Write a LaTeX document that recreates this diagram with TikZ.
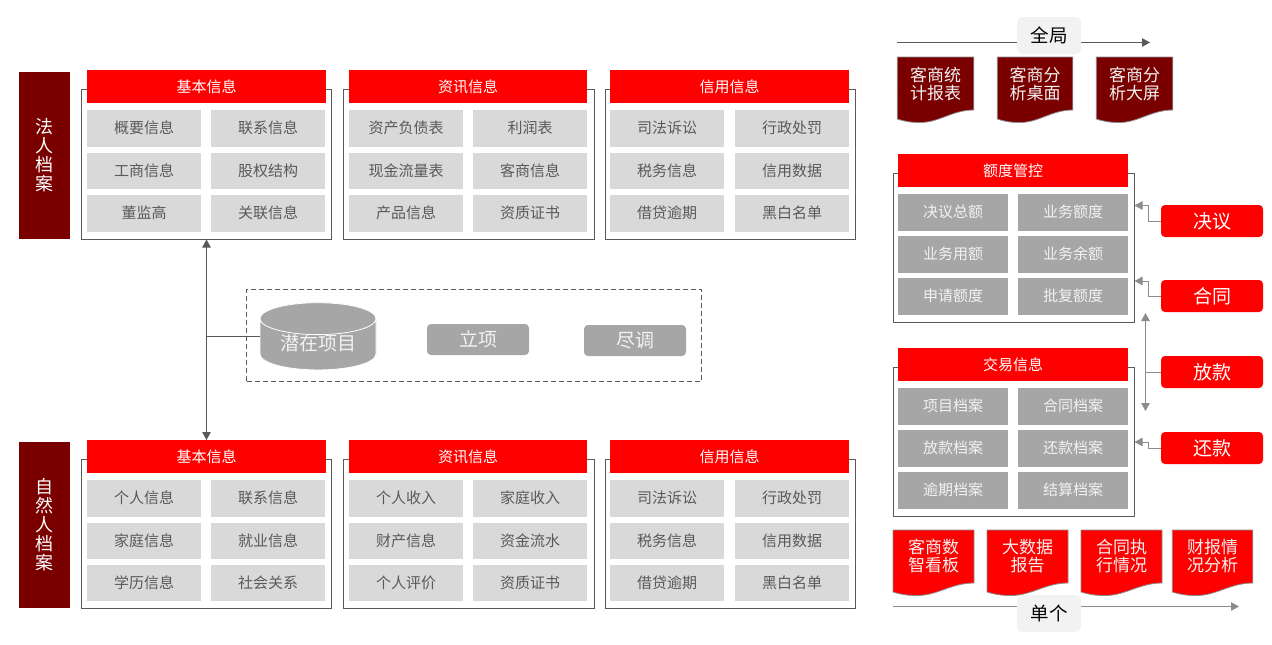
\documentclass[tikz,border=0pt]{standalone}
\usepackage{fontspec}
\setmainfont{Noto Sans CJK SC}
\usetikzlibrary{positioning}
\usetikzlibrary{shapes.geometric}
\usetikzlibrary{arrows.meta}
\definecolor{darkred}{HTML}{7A0000}
\definecolor{lightcell}{HTML}{D9D9D9}
\definecolor{midcell}{HTML}{A6A6A6}
\definecolor{linegrey}{HTML}{595959}
\definecolor{softgrey}{HTML}{8C8C8C}
\definecolor{tagfill}{HTML}{F2F2F2}
\begin{document}
\begin{tikzpicture}[x=1pt,y=-1pt,
  every node/.style={inner sep=0pt,outer sep=0pt},
  tip/.style={-{Triangle[length=8pt,width=8.5pt]}},
  bothtips/.style={{Triangle[length=8pt,width=8.5pt]}-{Triangle[length=8pt,width=8.5pt]}},
  framebox/.style={draw=linegrey,line width=.9pt,fill=white,anchor=north west,minimum width=250pt,minimum height=150pt},
  rightframe/.style={framebox,minimum width=241pt,minimum height=149pt},
  sidebox/.style={fill=darkred,text=white,anchor=north west,minimum width=51pt,minimum height=167pt,align=center,font=\fontsize{18}{19}\selectfont},
  titlebox/.style={fill=red,text=white,anchor=north west,minimum width=239pt,minimum height=33pt,text height=13.2pt,text depth=1.8pt,font=\fontsize{15}{18}\selectfont},
  righttitle/.style={titlebox,minimum width=230pt},
  cellbox/.style={fill=lightcell,text=linegrey,minimum width=114pt,minimum height=36.5pt,text height=13.2pt,text depth=1.8pt,font=\fontsize{15}{18}\selectfont},
  midbox/.style={cellbox,fill=midcell,text=tagfill,minimum width=110pt},
  stepbox/.style={fill=midcell,text=tagfill,rounded corners=4pt,minimum width=102pt,minimum height=31pt,text height=16.7pt,text depth=2.3pt,font=\fontsize{19}{22}\selectfont},
  redbtn/.style={fill=red,text=white,rounded corners=4pt,minimum width=102pt,minimum height=32pt,text height=16.7pt,text depth=2.3pt,font=\fontsize{19}{22}\selectfont},
  tagbox/.style={fill=tagfill,text=black,rounded corners=5pt,minimum width=64pt,minimum height=37pt,text height=16.3pt,text depth=2.2pt,font=\fontsize{18.5}{22}\selectfont},
  doctext/.style={text=tagfill,align=center,font=\fontsize{17}{18.5}\selectfont},
  docpaper/.pic={\path[pic actions,draw=softgrey,line width=.8pt] (0,0) -- (#1,0) -- (#1,53) .. controls (0.72*#1,53) and (0.55*#1,65.5) .. (0.3*#1,65.5) .. controls (0.18*#1,65.5) and (0.1*#1,64.5) .. (0,62) -- cycle;}]

\useasboundingbox (0,0) rectangle (1272,645);

\node[sidebox] (legal) at (19,72) {法\\人\\档\\案};
\node[sidebox,minimum height=166pt] (person) at (19,442) {自\\然\\人\\档\\案};

\node[framebox] (frameA) at (81.5,89.5) {};
\node[framebox,minimum width=251pt] (frameB) at (343.5,89.5) {};
\node[framebox] (frameC) at (605.5,89.5) {};

\node[titlebox] (titleA) at (87,70) {基本信息};
\node[cellbox, below right=7pt and 0pt of titleA.south west] (cellA1) {概要信息};
\node[cellbox, right=10pt of cellA1] (cellA2) {联系信息};
\node[cellbox, below=6pt of cellA1] (cellA3) {工商信息};
\node[cellbox, below=6pt of cellA2] (cellA4) {股权结构};
\node[cellbox, below=6pt of cellA3] (cellA5) {董监高};
\node[cellbox, below=6pt of cellA4] (cellA6) {关联信息};

\node[titlebox,minimum width=238pt] (titleB) at (349,70) {资讯信息};
\node[cellbox, below right=7pt and 0pt of titleB.south west] (cellB1) {资产负债表};
\node[cellbox, right=10pt of cellB1] (cellB2) {利润表};
\node[cellbox, below=6pt of cellB1] (cellB3) {现金流量表};
\node[cellbox, below=6pt of cellB2] (cellB4) {客商信息};
\node[cellbox, below=6pt of cellB3] (cellB5) {产品信息};
\node[cellbox, below=6pt of cellB4] (cellB6) {资质证书};

\node[titlebox] (titleC) at (610,70) {信用信息};
\node[cellbox, below right=7pt and 0pt of titleC.south west] (cellC1) {司法诉讼};
\node[cellbox, right=11pt of cellC1] (cellC2) {行政处罚};
\node[cellbox, below=6pt of cellC1] (cellC3) {税务信息};
\node[cellbox, below=6pt of cellC2] (cellC4) {信用数据};
\node[cellbox, below=6pt of cellC3] (cellC5) {借贷逾期};
\node[cellbox, below=6pt of cellC4] (cellC6) {黑白名单};

\node[framebox,minimum height=149pt] (frameD) at (81.5,459.5) {};
\node[framebox,minimum width=251pt,minimum height=149pt] (frameE) at (343.5,459.5) {};
\node[framebox,minimum height=149pt] (frameF) at (605.5,459.5) {};

\node[titlebox] (titleD) at (87,440) {基本信息};
\node[cellbox, below right=7pt and 0pt of titleD.south west] (cellD1) {个人信息};
\node[cellbox, right=10pt of cellD1] (cellD2) {联系信息};
\node[cellbox, below=6pt of cellD1] (cellD3) {家庭信息};
\node[cellbox, below=6pt of cellD2] (cellD4) {就业信息};
\node[cellbox, below=5.5pt of cellD3] (cellD5) {学历信息};
\node[cellbox, below=5.5pt of cellD4] (cellD6) {社会关系};

\node[titlebox,minimum width=238pt] (titleE) at (349,440) {资讯信息};
\node[cellbox, below right=7pt and 0pt of titleE.south west] (cellE1) {个人收入};
\node[cellbox, right=10pt of cellE1] (cellE2) {家庭收入};
\node[cellbox, below=6pt of cellE1] (cellE3) {财产信息};
\node[cellbox, below=6pt of cellE2] (cellE4) {资金流水};
\node[cellbox, below=5.5pt of cellE3] (cellE5) {个人评价};
\node[cellbox, below=5.5pt of cellE4] (cellE6) {资质证书};

\node[titlebox] (titleF) at (610,440) {信用信息};
\node[cellbox, below right=7pt and 0pt of titleF.south west] (cellF1) {司法诉讼};
\node[cellbox, right=11pt of cellF1] (cellF2) {行政处罚};
\node[cellbox, below=6pt of cellF1] (cellF3) {税务信息};
\node[cellbox, below=6pt of cellF2] (cellF4) {信用数据};
\node[cellbox, below=5.5pt of cellF3] (cellF5) {借贷逾期};
\node[cellbox, below=5.5pt of cellF4] (cellF6) {黑白名单};

\node[draw=linegrey,line width=.9pt,dash pattern=on 5pt off 3pt,anchor=north west,minimum width=455pt,minimum height=91.5pt] (dashbox) at (246.5,289.5) {};
\node[cylinder,shape border rotate=90,aspect=.42,draw=white,fill=midcell,cylinder uses custom fill,cylinder end fill=midcell,cylinder body fill=midcell,line width=.8pt,minimum width=116pt,minimum height=66pt,text=tagfill,font=\fontsize{19}{22}\selectfont] (pool) at (318,344.5) {\raisebox{3pt}{潜在项目}};
\node[stepbox] (setup) at (478,339.5) {立项};
\node[stepbox] (check) at (635,340.5) {尽调};

\draw[bothtips,draw=linegrey,line width=.9pt] (frameA.south) -- (titleD.north);
\coordinate (poolJoin) at (frameA.south |- 0,336.5);
\coordinate (poolIn) at (pool.west |- 0,336.5);
\draw[draw=linegrey,line width=.9pt] (poolJoin) -- (poolIn);

\coordinate (globalStart) at (897,42.5);
\coordinate (globalEnd) at (1150,42.5);
\draw[tip,draw=linegrey,line width=.9pt] (globalStart) -- (globalEnd);
\node[tagbox] (global) at (1049,35.5) {全局};

\pic[fill=darkred] at (897.3,57) {docpaper=76.5};
\pic[fill=darkred] at (997.3,57) {docpaper=75.5};
\pic[fill=darkred] at (1096.3,57) {docpaper=76.5};
\node[doctext] (docA) at (935.5,84) {客商统\\计报表};
\node[doctext] (docB) at (1035,84) {客商分\\析桌面};
\node[doctext] (docC) at (1134.5,84) {客商分\\析大屏};

\node[rightframe] (frameG) at (893.5,173.5) {};
\node[righttitle] (titleG) at (898,154) {额度管控};
\node[midbox, below right=7pt and 0pt of titleG.south west] (cellG1) {决议总额};
\node[midbox, right=10pt of cellG1] (cellG2) {业务额度};
\node[midbox, below=5.5pt of cellG1] (cellG3) {业务用额};
\node[midbox, below=5.5pt of cellG2] (cellG4) {业务余额};
\node[midbox, below=5.5pt of cellG3] (cellG5) {申请额度};
\node[midbox, below=5.5pt of cellG4] (cellG6) {批复额度};

\node[rightframe] (frameH) at (893.5,367.5) {};
\node[righttitle] (titleH) at (898,348) {交易信息};
\node[midbox, below right=7pt and 0pt of titleH.south west] (cellH1) {项目档案};
\node[midbox, right=10pt of cellH1] (cellH2) {合同档案};
\node[midbox, below=5.5pt of cellH1] (cellH3) {放款档案};
\node[midbox, below=5.5pt of cellH2] (cellH4) {还款档案};
\node[midbox, below=5.5pt of cellH3] (cellH5) {逾期档案};
\node[midbox, below=5.5pt of cellH4] (cellH6) {结算档案};

\node[redbtn] (decide) at (1212,221) {决议};
\node[redbtn] (contract) at (1212,296) {合同};
\node[redbtn] (loan) at (1212,372) {放款};
\node[redbtn] (repay) at (1212,448) {还款};

\coordinate (decideIn) at (frameG.east |- 0,205.5);
\coordinate (contractIn) at (frameG.east |- 0,281);
\coordinate (repayIn) at (frameH.east |- 0,442);
\coordinate (loanTop) at (1145.5,313);
\coordinate (loanBottom) at (1145.5,411);
\draw[tip,draw=softgrey,line width=.9pt] (decide.west) -- ++(-13,0) |- (decideIn);
\draw[tip,draw=softgrey,line width=.9pt] (contract.west) -- ++(-13,0) |- (contractIn);
\draw[tip,draw=softgrey,line width=.9pt] (repay.west) -- ++(-13,0) |- (repayIn);
\draw[bothtips,draw=softgrey,line width=.9pt] (loanTop) -- (loanBottom);
\draw[draw=softgrey,line width=.9pt] (loan.west) -- (loan.west -| loanTop);

\pic[fill=red] at (893,530) {docpaper=81};
\pic[fill=red] at (987,530) {docpaper=81};
\pic[fill=red] at (1081,530) {docpaper=81};
\pic[fill=red] at (1172.3,530) {docpaper=80.5};
\node[doctext] (docD) at (933.5,556) {客商数\\智看板};
\node[doctext] (docE) at (1027.5,556) {大数据\\报告};
\node[doctext] (docF) at (1121.5,556) {合同执\\行情况};
\node[doctext] (docG) at (1212.5,556) {财报情\\况分析};

\coordinate (singleStart) at (893,606.5);
\coordinate (singleEnd) at (1239,606.5);
\draw[tip,draw=softgrey,line width=.9pt] (singleStart) -- (singleEnd);
\node[tagbox] (single) at (1049,613.5) {单个};

\end{tikzpicture}
\end{document}
